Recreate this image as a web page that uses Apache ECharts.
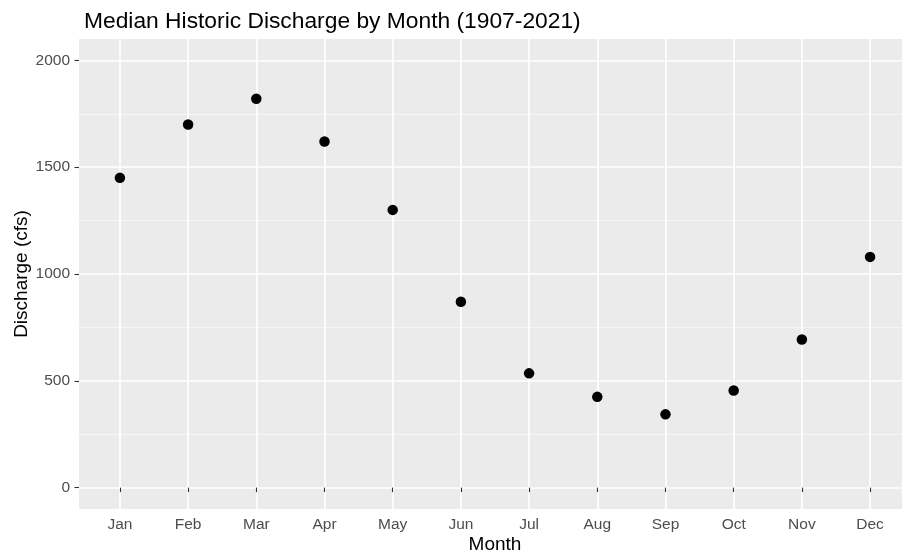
<!DOCTYPE html>
<html>
<head>
<meta charset="utf-8">
<script src="https://cdn.jsdelivr.net/npm/echarts@6/dist/echarts.min.js"></script>
<style>html,body{margin:0;padding:0;background:#fff;}#c{width:902px;height:554px;}</style>
</head>
<body>
<div id="c"></div>
<script>
var months = ["Jan","Feb","Mar","Apr","May","Jun","Jul","Aug","Sep","Oct","Nov","Dec"];
var discharge = [1450, 1700, 1820, 1620, 1300, 870, 535, 425, 343, 455, 693, 1080];
var yTicks = [0, 500, 1000, 1500, 2000];
var yMinor = [250, 750, 1250, 1750];
var monthPos = [1,2,3,4,5,6,7,8,9,10,11,12];

var FONT = '"Liberation Sans", Arial, sans-serif';
var chart = echarts.init(document.getElementById('c'), null, {renderer: 'canvas'});
var points = monthPos.map(function (m, i) { return [m, discharge[i]]; });

chart.setOption({
  animation: false,
  backgroundColor: '#ffffff',
  title: {
    text: 'Median Historic Discharge by Month (1907-2021)',
    left: 79, top: 5,
    textStyle: {fontFamily: FONT, fontSize: 22.8, fontWeight: 'normal', color: '#000000'}
  },
  grid: {left: 79, right: -9, top: 39, bottom: 45, show: true, backgroundColor: '#EBEBEB', borderWidth: 0,
         containLabel: false, outerBoundsMode: 'none'},
  xAxis: {
    type: 'value', min: 0.4, max: 12.6,
    name: 'Month', nameLocation: 'middle', nameGap: 26, nameMoveOverlap: false,
    nameTextStyle: {fontFamily: FONT, fontSize: 19, color: '#000000'},
    axisLine: {show: false},
    axisTick: {show: true, length: 4.5, lineStyle: {color: '#333333', width: 1.1}, customValues: monthPos},
    axisLabel: {
      customValues: monthPos, margin: 8,
      fontFamily: FONT, fontSize: 15.5, color: '#4D4D4D',
      formatter: function (v) { return months[Math.round(v) - 1] || ''; }
    },
    splitLine: {show: true, lineStyle: {color: '#ffffff', width: 1.7}}
  },
  yAxis: [{
    type: 'value', min: -100, max: 2100,
    name: 'Discharge (cfs)', nameLocation: 'middle', nameGap: 48, nameRotate: 90, nameMoveOverlap: false,
    nameTextStyle: {fontFamily: FONT, fontSize: 19, color: '#000000'},
    axisLine: {show: false},
    axisTick: {show: true, length: 4.5, lineStyle: {color: '#333333', width: 1.1}, customValues: yTicks},
    axisLabel: {customValues: yTicks, margin: 9, fontFamily: FONT, fontSize: 15.5, color: '#4D4D4D',
                formatter: function (v) { return String(v); }},
    splitLine: {show: true, lineStyle: {color: '#ffffff', width: 1.7}}
  }, {
    type: 'value', min: -100, max: 2100, position: 'left',
    axisLine: {show: false}, axisTick: {show: false, customValues: yMinor},
    axisLabel: {show: false, customValues: yMinor},
    splitLine: {show: true, lineStyle: {color: '#F7F7F7', width: 0.9}}
  }],
  series: [{
    type: 'scatter', yAxisIndex: 0,
    data: points, symbol: 'circle', symbolSize: 10.5,
    itemStyle: {color: '#000000', opacity: 1},
    z: 5
  }]
});
</script>
</body>
</html>
